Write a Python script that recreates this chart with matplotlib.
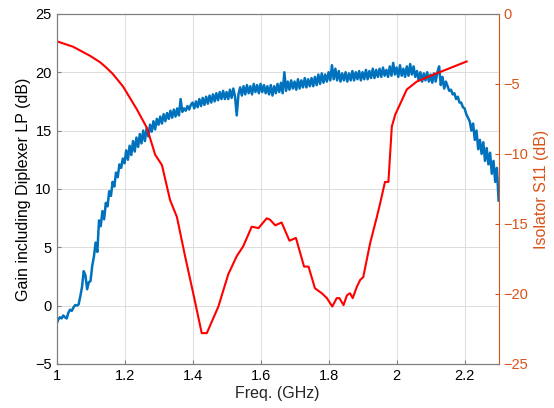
"""
Amplifier gain (incl. diplexer LP) and isolator S11 vs frequency, two y axes.
Usage: python plot.py
"""
import matplotlib
matplotlib.use("Agg")
import matplotlib.pyplot as plt
import numpy as np
from matplotlib.ticker import FuncFormatter

# gain sweep, 1.0 - 2.3 GHz in 5 MHz steps
GAIN_F_START, GAIN_F_STOP = 1.0, 2.3
GAIN_DB = [
    -1.6, -1.2, -1.0, -1.1, -0.85, -1.0, -1.1, -0.6, -0.35, -0.45,
    -0.15, 0.05, 0.0, 0.1, 0.8, 1.6, 2.95, 2.6, 1.4, 2.0,
    2.1, 3.4, 4.2, 5.4, 4.6, 7.3, 6.8, 8.1, 7.4, 8.8,
    8.5, 9.8, 9.4, 10.6, 10.2, 11.4, 11.0, 12.1, 11.8, 12.6,
    12.2, 13.3, 12.5, 13.7, 12.9, 14.1, 13.2, 14.4, 13.6, 14.7,
    13.9, 15.0, 14.1, 15.2, 14.5, 15.5, 14.9, 15.8, 15.1, 16.0,
    15.5, 16.2, 15.6, 16.4, 15.8, 16.5, 16.0, 16.7, 16.1, 16.8,
    16.2, 16.9, 16.3, 17.7, 16.6, 16.9, 16.7, 17.1, 16.8, 17.2,
    17.4, 16.9, 17.5, 17.0, 17.7, 17.1, 17.8, 17.2, 17.9, 17.3,
    18.0, 17.4, 18.1, 17.5, 18.2, 17.6, 18.3, 17.7, 18.4, 17.7,
    18.3, 17.7, 18.5, 17.8, 18.6, 17.9, 16.3, 18.1, 18.7, 18.0,
    18.8, 18.1, 18.9, 18.2, 18.8, 18.1, 19.0, 18.3, 18.9, 18.2,
    19.0, 18.3, 18.9, 18.2, 18.8, 18.1, 18.9, 18.0, 18.8, 18.2,
    19.0, 18.3, 19.1, 18.2, 20.0, 18.4, 19.2, 18.5, 19.3, 18.6,
    19.2, 18.5, 19.4, 18.6, 19.3, 18.7, 19.5, 18.7, 19.4, 18.8,
    19.5, 18.8, 19.6, 18.9, 19.8, 19.0, 19.9, 19.1, 19.8, 19.2,
    20.0, 19.3, 20.6, 19.4, 20.3, 19.3, 20.1, 19.2, 19.9, 19.3,
    20.0, 19.2, 19.9, 19.3, 20.1, 19.3, 20.0, 19.4, 20.1, 19.3,
    20.0, 19.4, 20.2, 19.4, 20.1, 19.5, 20.3, 19.5, 20.2, 19.6,
    20.3, 19.6, 20.4, 19.7, 20.2, 19.6, 20.5, 19.7, 20.8, 19.8,
    20.4, 19.6, 20.6, 19.7, 20.3, 19.6, 20.5, 19.7, 20.7, 19.8,
    20.5, 19.6, 20.1, 19.3, 20.0, 19.2, 19.9, 19.3, 20.0, 19.2,
    19.8, 19.1, 19.9, 19.2, 20.0, 20.5, 18.9, 19.6, 18.6, 19.2,
    18.8, 18.4, 18.5, 18.1, 18.2, 17.7, 17.9, 17.4, 17.4, 17.0,
    16.9, 16.4, 16.1, 15.8, 15.0, 15.6, 14.2, 15.0, 13.4, 14.2,
    13.0, 14.0, 12.4, 13.5, 12.1, 13.1, 11.3, 12.4, 10.6, 11.8,
    9.0,
]

# isolator S11 trace
S11_FREQ = [
    1.000, 1.049, 1.099, 1.128, 1.147, 1.166, 1.196, 1.237, 1.266, 1.290,
    1.310, 1.334, 1.354, 1.378, 1.402, 1.427, 1.442, 1.476, 1.505, 1.530,
    1.549, 1.574, 1.594, 1.618, 1.628, 1.643, 1.662, 1.685, 1.704, 1.728,
    1.741, 1.760, 1.780, 1.795, 1.811, 1.824, 1.832, 1.844, 1.854, 1.863,
    1.871, 1.883, 1.893, 1.902, 1.922, 1.942, 1.951, 1.966, 1.976, 1.986,
    1.996, 2.030, 2.059, 2.099, 2.206,
]
S11_DB = [
    -1.95, -2.35, -3.0, -3.45, -3.85, -4.3, -5.2, -6.85, -8.15, -10.05,
    -10.8, -13.3, -14.5, -17.3, -19.95, -22.8, -22.8, -20.9, -18.6, -17.3,
    -16.6, -15.2, -15.3, -14.6, -14.7, -15.1, -14.9, -16.2, -16.0, -18.05,
    -18.05, -19.6, -19.95, -20.3, -20.9, -20.3, -20.3, -20.8, -20.1, -19.95,
    -20.3, -19.5, -19.0, -18.8, -16.4, -14.5, -13.6, -12.0, -12.0, -8.05,
    -7.2, -5.4, -4.84, -4.43, -3.4,
]

X_TICKS = [1.0, 1.2, 1.4, 1.6, 1.8, 2.0, 2.2]
LEFT_TICKS = [-5, 0, 5, 10, 15, 20, 25]
RIGHT_TICKS = [-25, -20, -15, -10, -5, 0]

GAIN_COLOR = "#0072BD"
S11_COLOR = "#FF0000"
RIGHT_AXIS_COLOR = "#D95319"
TEXT_COLOR = "#262626"
SPINE_COLOR = "#7f7f7f"

plt.rcParams["font.family"] = ["Liberation Sans", "DejaVu Sans"]


def fmt_g(v, _pos):
    return f"{v:g}"


def main():
    gain_freq = np.linspace(GAIN_F_START, GAIN_F_STOP, len(GAIN_DB))

    fig = plt.figure(figsize=(5.54, 4.08), dpi=100)
    ax = fig.add_axes([0.102, 0.108, 0.798, 0.858])
    ax2 = ax.twinx()

    ax.plot(gain_freq, GAIN_DB, color=GAIN_COLOR, linewidth=1.8)
    ax2.plot(S11_FREQ, S11_DB, color=S11_COLOR, linewidth=1.5)

    ax.set_xlim(1.0, 2.3)
    ax.set_ylim(-5, 25)
    ax2.set_ylim(-25, 0)
    ax.set_xticks(X_TICKS)
    ax.set_yticks(LEFT_TICKS)
    ax2.set_yticks(RIGHT_TICKS)
    ax.xaxis.set_major_formatter(FuncFormatter(fmt_g))

    ax.grid(True, color="#dcdcdc", linewidth=0.7)
    ax.set_axisbelow(True)

    ax.tick_params(axis="both", direction="in", length=3, labelsize=10.5,
                   colors=SPINE_COLOR, labelcolor="black", top=False)
    ax2.tick_params(axis="y", direction="in", length=3, labelsize=10.5,
                    colors=RIGHT_AXIS_COLOR, labelcolor=RIGHT_AXIS_COLOR)

    for name in ("left", "bottom", "top"):
        ax.spines[name].set_color(SPINE_COLOR)
        ax2.spines[name].set_color(SPINE_COLOR)
    ax.spines["right"].set_visible(False)
    ax2.spines["right"].set_color(RIGHT_AXIS_COLOR)
    for sp in list(ax.spines.values()) + list(ax2.spines.values()):
        sp.set_linewidth(0.8)

    ax.set_xlabel("Freq. (GHz)", fontsize=11.5, color=TEXT_COLOR, labelpad=2)
    ax.set_ylabel("Gain including Diplexer LP (dB)", fontsize=11.5,
                  color="black", labelpad=3)
    ax2.set_ylabel("Isolator S11 (dB)", fontsize=11.5,
                   color=RIGHT_AXIS_COLOR, labelpad=4)

    fig.savefig("out.png", dpi=100)
    plt.close(fig)


if __name__ == "__main__":
    main()
